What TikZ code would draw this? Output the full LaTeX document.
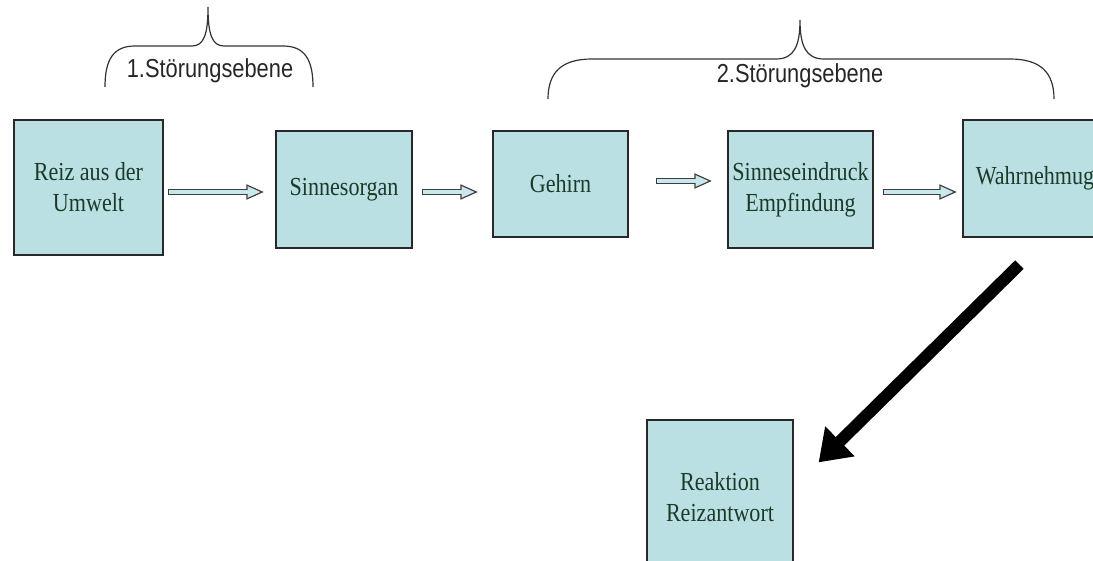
\documentclass[tikz,border=0pt]{standalone}
\usepackage{fontspec}
\usetikzlibrary{arrows.meta,calc}
\newfontfamily\boxfont[FakeStretch=0.85]{Liberation Serif}
\newfontfamily\bracefont[FakeStretch=0.84]{Liberation Sans}
\definecolor{boxfill}{RGB}{186,224,228}
\definecolor{boxline}{RGB}{40,40,40}
\definecolor{boxtext}{RGB}{28,58,40}
\definecolor{arrfill}{RGB}{200,232,236}
\definecolor{arrline}{RGB}{60,60,60}
\tikzset{
  stagebox/.style={draw=boxline, fill=boxfill, line width=1.2pt, rectangle,
    inner sep=0pt, align=center, text=boxtext,
    font=\boxfont\fontsize{26}{31}\selectfont},
  bracelabel/.style={inner sep=0pt, anchor=base, text=black!85,
    font=\bracefont\fontsize{26}{31}\selectfont},
  bracepath/.style={draw=black!80, line width=1.2pt},
  harrowout/.style={draw=arrline, line width=6pt,
    -{Triangle[length=18pt,width=14pt]}},
  harrowin/.style={draw=arrfill, line width=3.6pt, shorten <=1.2pt,
    shorten >=3.3pt, -{Triangle[length=13.5pt,width=10.5pt]}},
  bigarrow/.style={draw=black, line width=12pt,
    -{Triangle[length=30pt,width=40pt]}}
}
\newcommand\hollowarrow[2]{\draw[harrowout] #1 -- #2; \draw[harrowin] #1 -- #2;}
\begin{document}
\begin{tikzpicture}[x=1pt,y=-1pt]
\useasboundingbox (0,0) rectangle (1093,561);
\clip (0,0) rectangle (1093,561);

% boxes
\node[stagebox, minimum width=149pt, minimum height=135pt] (reiz) at (88.5,187.5) {Reiz aus der\\Umwelt};
\node[stagebox, minimum width=136pt, minimum height=117pt] (sinn) at (344,189.5) {Sinnesorgan};
\node[stagebox, minimum width=135pt, minimum height=106pt] (geh) at (560.5,184) {Gehirn};
\node[stagebox, minimum width=145pt, minimum height=117pt] (sinne) at (800.5,189.5) {Sinneseindruck\\Empfindung};
\node[stagebox, minimum width=144pt, minimum height=117pt] (wahr) at (1035,178.5) {Wahrnehmug};
\node[stagebox, minimum width=146pt, minimum height=155pt] (reak) at (720,497.5) {Reaktion\\Reizantwort};

% hollow arrows
\hollowarrow{($(reiz.east)+(4,4.5)$)}{($(sinn.west)+(-11,2.5)$)}
\hollowarrow{($(sinn.east)+(9,2.5)$)}{($(geh.west)+(-14,8)$)}
\hollowarrow{($(geh.east)+(27,-3)$)}{($(sinne.west)+(-15,-8.5)$)}
\hollowarrow{($(sinne.east)+(9,2.5)$)}{($(wahr.west)+(-5,13.5)$)}

% big arrow
\coordinate (bigS) at ($(wahr.south west)+(57,27)$);
\coordinate (bigE) at ($(reak.north east)+(25,43)$);
\draw[bigarrow] (bigS) -- (bigE);

% braces
\draw[bracepath] (105,87) .. controls (105,60) and (113,46) .. (135,46)
  -- (192,46) .. controls (204,46) and (208,34) .. (208,7)
  .. controls (208,34) and (212,46) .. (224,46)
  -- (283,46) .. controls (305,46) and (313,60) .. (313,87);
\node[bracelabel] (lab1) at (210,78) {1.Störungsebene};

\draw[bracepath] (548,99) .. controls (548,72) and (562,59) .. (592,59)
  -- (776,59) .. controls (794,59) and (800,46) .. (800,20)
  .. controls (800,46) and (806,59) .. (824,59)
  -- (1010,59) .. controls (1040,59) and (1054,72) .. (1054,99);
\node[bracelabel] (lab2) at (800,83) {2.Störungsebene};
\end{tikzpicture}
\end{document}
